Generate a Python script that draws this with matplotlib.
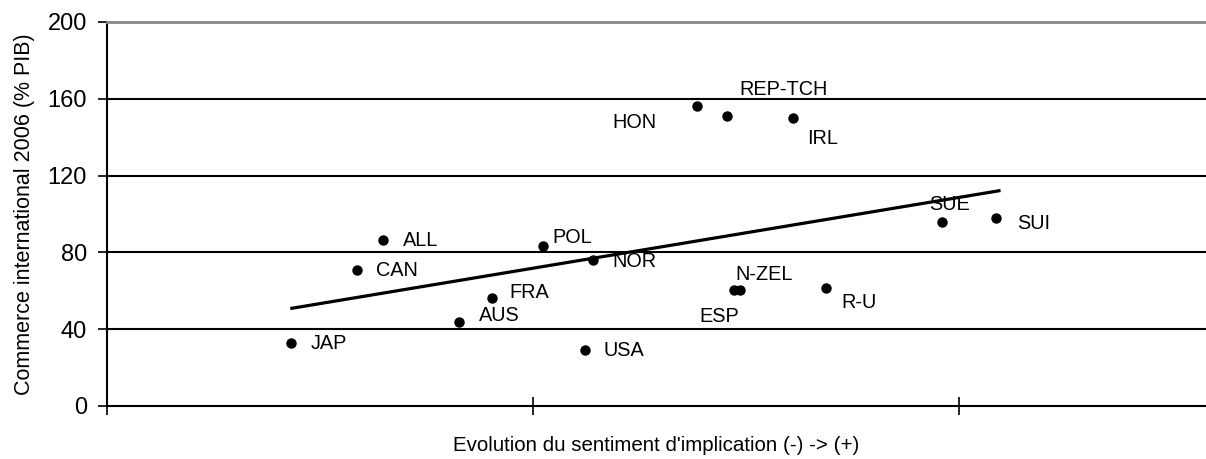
"""Nuage de points : commerce international vs évolution du sentiment d'implication."""

import matplotlib
matplotlib.use("Agg")

import matplotlib.pyplot as plt

plt.rcParams.update({
    "font.family": ["Liberation Sans", "DejaVu Sans"],
    "font.size": 14,
})

# ---------------------------------------------------------------------------
# Données
# ---------------------------------------------------------------------------

pays = ["JAP", "CAN", "ALL", "AUS", "FRA", "POL", "USA", "NOR",
        "HON", "REP-TCH", "IRL", "ESP", "N-ZEL", "R-U", "SUE", "SUI"]
implication = [0.432, 0.587, 0.648, 0.826, 0.904, 1.023, 1.122, 1.141,
               1.385, 1.455, 1.610, 1.472, 1.486, 1.688, 1.960, 2.087]
commerce = [32.8, 70.8, 86.5, 43.8, 56.3, 83.3, 29.2, 76.0,
            156.3, 151.0, 150.0, 60.4, 60.4, 61.5, 95.8, 97.9]

# tendance linéaire (extrémités)
tendance_x = [0.434, 2.094]
tendance_y = [50.9, 112.1]

# position des étiquettes (décalage en pixels, alignement horizontal)
decalages = {
    "JAP": (20, 0, "left"), "CAN": (19, 0, "left"), "ALL": (20, -1, "left"),
    "AUS": (20, 6, "left"), "FRA": (17, 5, "left"), "POL": (10, 9, "left"),
    "USA": (19, -1, "left"), "NOR": (19, -1, "left"), "HON": (-40, -17, "right"),
    "REP-TCH": (13, 27, "left"), "IRL": (14, -21, "left"), "ESP": (-35, -26, "left"),
    "N-ZEL": (-5, 16, "left"), "R-U": (15, -15, "left"), "SUE": (-13, 18, "left"),
    "SUI": (21, -5, "left"),
}

fig = plt.figure(figsize=(12.06, 4.59), dpi=100)
ax = fig.add_axes([107 / 1206, 53 / 459, 1 - 107 / 1206, 384 / 459])

for y in [40, 80, 120, 160]:
    ax.axhline(y, color="black", linewidth=1.5, zorder=1)

ax.plot(tendance_x, tendance_y, color="black", linewidth=2.3, zorder=2)
ax.plot(implication, commerce, "o", color="black", markersize=6.5, zorder=3)

for nom, x, y in zip(pays, implication, commerce):
    dx, dy, ha = decalages[nom]
    ax.annotate(nom, (x, y), xytext=(dx, dy), textcoords="offset pixels",
                ha=ha, va="center", fontsize=14.3)

ax.set_xlim(0, 2.58)
ax.set_ylim(0, 200)
ax.set_xticks([0, 1, 2])
ax.set_xticklabels([])
ax.set_yticks([0, 40, 80, 120, 160, 200])
ax.tick_params(axis="x", direction="inout", length=12.5, width=1.2)
ax.tick_params(axis="y", direction="out", length=6.5, width=1.2, pad=8,
               labelsize=17)

for s in ["left", "bottom"]:
    ax.spines[s].set_linewidth(1.5)
ax.spines["top"].set_color("#888888")
ax.spines["top"].set_linewidth(2)
ax.spines["right"].set_visible(False)

ax.set_ylabel("Commerce international 2006 (% PIB)", fontsize=15.5, labelpad=9)
ax.set_xlabel("Evolution du sentiment d'implication (-) -> (+)", fontsize=14.8,
              labelpad=12)

fig.savefig("out.png", dpi=100)
